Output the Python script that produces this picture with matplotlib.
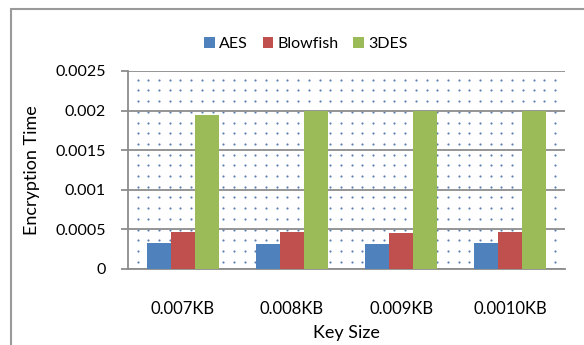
import matplotlib.pyplot as plt
import numpy as np
from matplotlib.patches import Rectangle

plt.rcParams['font.family'] = ['Lato', 'DejaVu Sans']

key_sizes = ['0.007KB', '0.008KB', '0.009KB', '0.0010KB']
aes = [0.00032, 0.00031, 0.00031, 0.00033]
blowfish = [0.00046, 0.000467, 0.000447, 0.00046]
des3 = [0.00194, 0.002, 0.002, 0.002]
series = ['AES', 'Blowfish', '3DES']
colors = ['#4f81bd', '#c0504d', '#9bbb59']

W, H = 584, 345
fig = plt.figure(figsize=(W / 100, H / 100), dpi=100)
fig.patch.set_facecolor('white')

# outer chart frame
fig.add_artist(Rectangle((11 / W, -0.1), 1.2, (H - 9) / H + 0.1, transform=fig.transFigure,
                         fill=False, edgecolor='#9a9a9a', linewidth=1.5))

ax = fig.add_axes([128 / W, 1 - 268.6 / H, (565 - 128) / W, (268.6 - 71) / H])

# dotted background
gx = np.arange(0.022, 1.0, 10.7 / 437)
gy = np.arange(0.035, 1.0, 10.7 / 197.6)
xx, yy = np.meshgrid(gx, gy)
ax.scatter(xx.ravel(), yy.ravel(), s=2.4, color='#5a7db0', marker='o', linewidths=0,
           transform=ax.transAxes, zorder=0)

x = np.arange(len(key_sizes))
w = 0.22
for i, (vals, name) in enumerate(zip([aes, blowfish, des3], series)):
    ax.bar(x + (i - 1) * w, vals, w, color=colors[i], label=name, zorder=3)

ax.set_xlim(-0.5, len(key_sizes) - 0.5)
ax.set_ylim(0, 0.0025)
ax.set_yticks(np.arange(0, 0.00251, 0.0005))
ax.set_yticklabels(['0', '0.0005', '0.001', '0.0015', '0.002', '0.0025'])
ax.set_xticks(x)
ax.set_xticklabels(key_sizes)
ax.yaxis.grid(True, color='#8c8c8c', linewidth=1.3, zorder=1)
ax.set_axisbelow(True)

for s in ['top', 'right']:
    ax.spines[s].set_visible(False)
for s in ['left', 'bottom']:
    ax.spines[s].set_color('#8c8c8c')
    ax.spines[s].set_linewidth(1.3)
ax.tick_params(axis='y', length=5, color='#8c8c8c', width=1.3, labelsize=11.5, pad=11)
ax.tick_params(axis='x', length=0, labelsize=12, pad=23)

ax.set_ylabel('Encryption Time', fontsize=13)
ax.yaxis.set_label_coords(-88 / 437, 0.5)
ax.set_xlabel('Key Size', fontsize=13, labelpad=6)

fig.legend(loc='center', bbox_to_anchor=(306 / W, 1 - 44 / H), ncol=3, frameon=False,
           fontsize=11.5, handlelength=0.65, handleheight=0.65, handletextpad=0.3,
           columnspacing=0.9)

fig.savefig('out.png', dpi=100)
